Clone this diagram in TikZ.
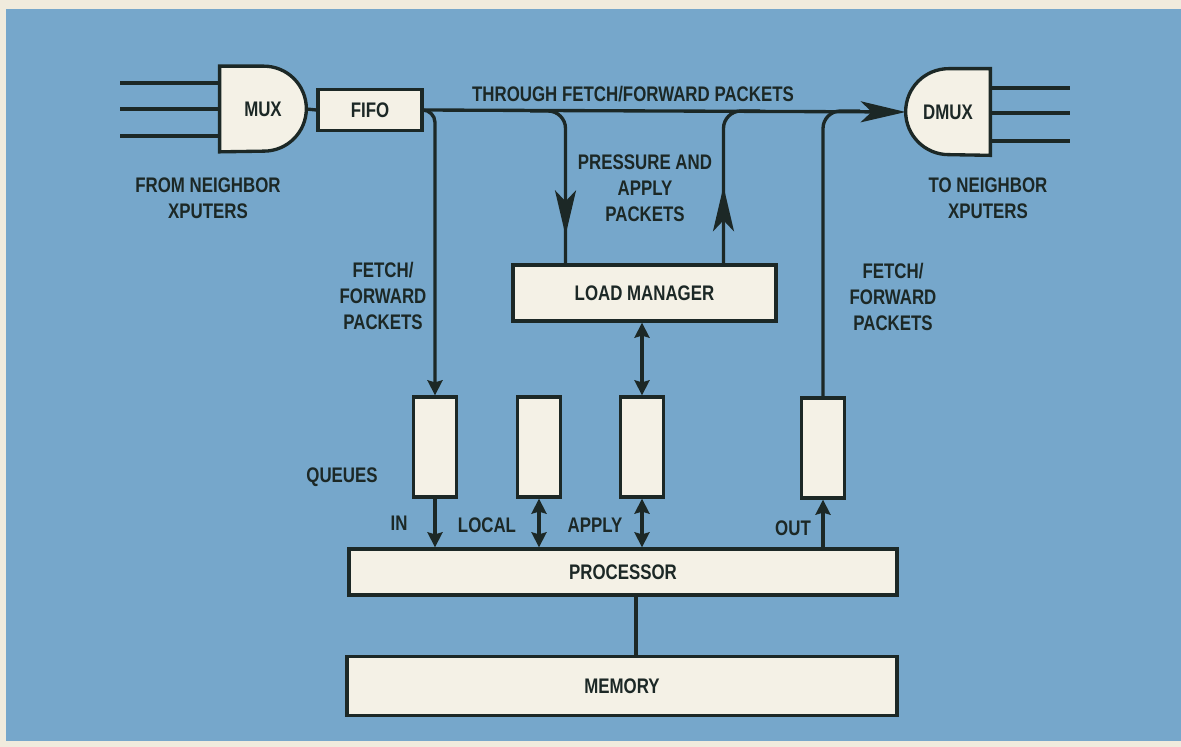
\documentclass[tikz,border=0pt]{standalone}
\usepackage{fontspec}
\setmainfont{Liberation Sans}[FakeStretch=0.8]
\usetikzlibrary{arrows.meta,positioning,calc,backgrounds,decorations.markings}
\definecolor{panelblue}{HTML}{76A7CB}
\definecolor{paper}{HTML}{F0EBDD}
\definecolor{boxfill}{HTML}{F4F1E6}
\definecolor{ink}{HTML}{1C2826}

\begin{document}
\begin{tikzpicture}[x=0.02cm, y=-0.02cm,
      lbl/.style={font=\fontsize{12}{14.7}\selectfont\bfseries, text=ink, align=center, inner sep=0pt},
      blk/.style={lbl, draw=ink, fill=boxfill, line width=1.9pt},
      qbox/.style={blk, minimum width=0.86cm, minimum height=2cm},
      gatebox/.style={lbl, minimum width=1.72cm, minimum height=1.7cm},
      gate/.style={draw=ink, fill=boxfill, line width=1.9pt},
      wire/.style={draw=ink, line width=1.9pt},
      sarr/.style={wire, -{Stealth[length=0.3cm,width=0.3cm,inset=0.04cm]}},
      darr/.style={wire, {Stealth[length=0.3cm,width=0.3cm,inset=0.04cm]}-{Stealth[length=0.3cm,width=0.3cm,inset=0.04cm]}},
      bigtip/.style={-{Stealth[length=0.9cm,width=0.42cm,inset=0.22cm]}},
      midtip/.style={postaction={decorate}, decoration={markings,
                  mark=at position #1 with {\arrow{Stealth[length=0.9cm,width=0.42cm,inset=0.22cm]}}}}]
    % gates and boxes
    \node[gatebox] (mux) at (263,109) {MUX};
    \node[gatebox, minimum width=1.68cm, minimum height=1.72cm] (dmux) at (948,112) {DMUX};
    \node[blk, minimum width=2.08cm, minimum height=0.82cm] (fifo) at (370,110) {FIFO};
    \node[blk, minimum width=5.26cm, minimum height=1.12cm] (lm) at (644.5,293) {LOAD MANAGER};
    \node[qbox] (qin) at (435,447) {};
    \node[qbox] (qloc) at (539,447) {};
    \node[qbox] (qap) at (642,447) {};
    \node[qbox] (qout) at (823,448) {};
    \node[blk, minimum width=10.96cm, minimum height=0.92cm] (proc) at (623,572) {PROCESSOR};
    \node[blk, minimum width=11cm, minimum height=1.18cm] (mem) at (622,686) {MEMORY};

    % labels
    \node[lbl] (from) at (208,198) {FROM NEIGHBOR\\XPUTERS};
    \node[lbl] (to) at (988,198) {TO NEIGHBOR\\XPUTERS};
    \node[lbl] (through) at (633,94) {THROUGH FETCH/FORWARD PACKETS};
    \node[lbl] (press) at (645,188) {PRESSURE AND\\APPLY\\PACKETS};
    \node[lbl] (ffl) at (383,296) {FETCH/\\FORWARD\\PACKETS};
    \node[lbl] (ffr) at (893,297) {FETCH/\\FORWARD\\PACKETS};
    \node[lbl] (queues) at (342,477) {QUEUES};
    \node[lbl] (lin) at (399,523) {IN};
    \node[lbl] (lloc) at (487,525) {LOCAL};
    \node[lbl] (lap) at (595,525) {APPLY};
    \node[lbl] (lout) at (793,528) {OUT};

    % neighbor links
    \foreach \y [count=\i] in {83,109,136} {
      \coordinate (src\i) at (120,\y);
      \draw[wire] (src\i) -- (src\i -| mux.west);
    }
    \foreach \y [count=\i] in {88,113,141} {
      \coordinate (dst\i) at (1070,\y);
      \draw[wire] (dmux.east |- dst\i) -- (dst\i);
    }
    \draw[wire] (mux.east) -- (fifo.west);
    \draw[wire, bigtip] (fifo.east) -- (dmux.west);

    % packet paths
    \coordinate (tapa) at (530,111);
    \coordinate (tapb) at (760,111);
    \coordinate (tapc) at (860,111);
    \draw[sarr, rounded corners=0.25cm] (fifo.east) -| (qin.north);
    \draw[wire, rounded corners=0.35cm, midtip=-0.56cm] (tapa) -| ([xshift=-1.58cm]lm.north);
    \draw[wire, rounded corners=0.35cm, midtip=1.54cm] ([xshift=1.58cm]lm.north) |- (tapb);
    \draw[wire, rounded corners=0.35cm] (qout.north) |- (tapc);
    \draw[darr] (lm.south -| qap.north) -- (qap.north);

    % queues to processor
    \draw[sarr] (qin.south) -- (qin.south |- proc.north);
    \draw[darr] (qloc.south) -- (qloc.south |- proc.north);
    \draw[darr] (qap.south) -- (qap.south |- proc.north);
    \draw[sarr] (qout.south |- proc.north) -- (qout.south);
    \draw[wire] ([xshift=0.26cm]proc.south) -- ([xshift=0.26cm]proc.south |- mem.north);

    \begin{pgfonlayer}{background}
      \fill[paper] (0,0) rectangle (1181,747);
      \fill[panelblue] (6,9) rectangle (1181,741);
      \draw[gate] (mux.south west) -- (mux.north west) -- ([xshift=-0.85cm]mux.north east)
        arc[start angle=90, end angle=-90, radius=0.85cm] -- cycle;
      \draw[gate] (dmux.north east) -- ([xshift=0.86cm]dmux.north west)
        arc[start angle=90, end angle=270, radius=0.86cm] -- (dmux.south east) -- cycle;
    \end{pgfonlayer}
  \end{tikzpicture}
\end{document}
